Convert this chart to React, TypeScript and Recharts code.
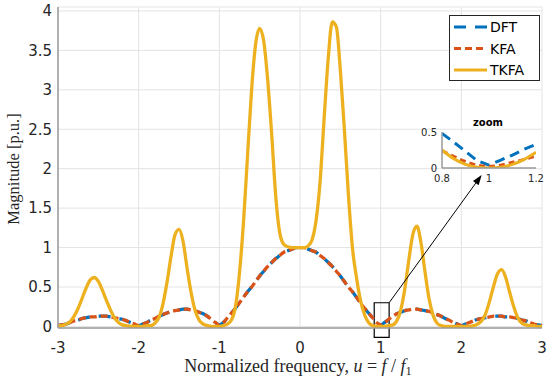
import React from "react";
import { LineChart, Line, XAxis, YAxis, CartesianGrid, ReferenceArea, ReferenceLine } from "recharts";

// normalized frequency grid, step 0.05
const freq = [
  -3, -2.95, -2.9, -2.85, -2.8, -2.75, -2.7, -2.65, -2.6, -2.55,
  -2.5, -2.45, -2.4, -2.35, -2.3, -2.25, -2.2, -2.15, -2.1, -2.05,
  -2, -1.95, -1.9, -1.85, -1.8, -1.75, -1.7, -1.65, -1.6, -1.55,
  -1.5, -1.45, -1.4, -1.35, -1.3, -1.25, -1.2, -1.15, -1.1, -1.05,
  -1, -0.95, -0.9, -0.85, -0.8, -0.75, -0.7, -0.65, -0.6, -0.55,
  -0.5, -0.45, -0.4, -0.35, -0.3, -0.25, -0.2, -0.15, -0.1, -0.05,
  0, 0.05, 0.1, 0.15, 0.2, 0.25, 0.3, 0.35, 0.4, 0.45,
  0.5, 0.55, 0.6, 0.65, 0.7, 0.75, 0.8, 0.85, 0.9, 0.95,
  1, 1.05, 1.1, 1.15, 1.2, 1.25, 1.3, 1.35, 1.4, 1.45,
  1.5, 1.55, 1.6, 1.65, 1.7, 1.75, 1.8, 1.85, 1.9, 1.95,
  2, 2.05, 2.1, 2.15, 2.2, 2.25, 2.3, 2.35, 2.4, 2.45,
  2.5, 2.55, 2.6, 2.65, 2.7, 2.75, 2.8, 2.85, 2.9, 2.95,
  3,
];

const dft = [
  0.01, 0.02, 0.03, 0.05, 0.07, 0.08, 0.1, 0.11, 0.12, 0.12,
  0.13, 0.13, 0.13, 0.12, 0.11, 0.1, 0.09, 0.07, 0.05, 0.03,
  0.01, 0.03, 0.05, 0.08, 0.1, 0.13, 0.15, 0.17, 0.19, 0.2,
  0.21, 0.22, 0.22, 0.21, 0.2, 0.18, 0.16, 0.13, 0.09, 0.05,
  0.02, 0.05, 0.11, 0.17, 0.23, 0.3, 0.37, 0.44, 0.5, 0.57,
  0.64, 0.7, 0.76, 0.81, 0.86, 0.9, 0.94, 0.96, 0.98, 1.0,
  1.0, 1.0, 0.98, 0.96, 0.94, 0.9, 0.86, 0.81, 0.76, 0.7,
  0.64, 0.57, 0.5, 0.44, 0.37, 0.3, 0.23, 0.17, 0.11, 0.05,
  0.02, 0.05, 0.09, 0.13, 0.16, 0.18, 0.2, 0.21, 0.22, 0.22,
  0.21, 0.2, 0.19, 0.17, 0.15, 0.13, 0.1, 0.08, 0.05, 0.03,
  0.01, 0.03, 0.05, 0.07, 0.09, 0.1, 0.11, 0.12, 0.13, 0.13,
  0.13, 0.12, 0.12, 0.11, 0.1, 0.08, 0.07, 0.05, 0.03, 0.02,
  0.01,
];

const kfa = [
  0.01, 0.02, 0.03, 0.05, 0.07, 0.08, 0.1, 0.11, 0.12, 0.12,
  0.13, 0.13, 0.13, 0.12, 0.11, 0.1, 0.09, 0.07, 0.05, 0.03,
  0.01, 0.03, 0.05, 0.08, 0.1, 0.13, 0.15, 0.17, 0.19, 0.2,
  0.21, 0.22, 0.22, 0.21, 0.2, 0.18, 0.16, 0.13, 0.09, 0.05,
  0.02, 0.05, 0.11, 0.17, 0.23, 0.3, 0.37, 0.44, 0.5, 0.57,
  0.64, 0.7, 0.76, 0.81, 0.86, 0.9, 0.94, 0.96, 0.98, 1.0,
  1.0, 1.0, 0.98, 0.96, 0.94, 0.9, 0.86, 0.81, 0.76, 0.7,
  0.64, 0.57, 0.5, 0.44, 0.37, 0.3, 0.23, 0.17, 0.11, 0.05,
  0.02, 0.05, 0.09, 0.13, 0.16, 0.18, 0.2, 0.21, 0.22, 0.22,
  0.21, 0.2, 0.19, 0.17, 0.15, 0.13, 0.1, 0.08, 0.05, 0.03,
  0.01, 0.03, 0.05, 0.07, 0.09, 0.1, 0.11, 0.12, 0.13, 0.13,
  0.13, 0.12, 0.12, 0.11, 0.1, 0.08, 0.07, 0.05, 0.03, 0.02,
  0.01,
];

const tkfa = [
  0.01, 0.01, 0.03, 0.06, 0.13, 0.23, 0.36, 0.49, 0.59, 0.62,
  0.57, 0.46, 0.33, 0.21, 0.11, 0.05, 0.02, 0.01, 0.0, 0.0,
  0.0, 0.0, 0.01, 0.01, 0.04, 0.11, 0.28, 0.55, 0.88, 1.16,
  1.23, 1.08, 0.74, 0.43, 0.2, 0.08, 0.03, 0.01, 0.0, 0.0,
  0.0, 0.01, 0.03, 0.08, 0.25, 0.68, 1.33, 2.17, 3.0, 3.58,
  3.78, 3.62, 3.12, 2.42, 1.64, 1.18, 1.04, 1.01, 1.0, 1.0,
  1.0, 1.0, 1.02, 1.1, 1.35, 1.85, 2.65, 3.4, 3.86, 3.8,
  3.25, 2.5, 1.67, 1.0, 0.62, 0.33, 0.15, 0.05, 0.01, 0.0,
  0.0, 0.0, 0.01, 0.02, 0.07, 0.21, 0.48, 0.85, 1.17, 1.27,
  1.06, 0.69, 0.35, 0.14, 0.04, 0.01, 0.0, 0.0, 0.0, 0.0,
  0.0, 0.0, 0.0, 0.01, 0.03, 0.07, 0.16, 0.32, 0.51, 0.67,
  0.72, 0.62, 0.43, 0.25, 0.11, 0.04, 0.02, 0.01, 0.01, 0.0,
  0.0,
];

const xTicks = [-3, -2, -1, 0, 1, 2, 3];
const yTicks = [0, 0.5, 1, 1.5, 2, 2.5, 3, 3.5, 4];

// inset (zoom around u = 1)
const zoomFreq = [0.8, 0.85, 0.9, 0.95, 1, 1.05, 1.1, 1.15, 1.2];
const zoomDft = [0.48, 0.36, 0.23, 0.1, 0.04, 0.11, 0.18, 0.26, 0.33];
const zoomKfa = [0.24, 0.16, 0.09, 0.04, 0.02, 0.04, 0.08, 0.12, 0.17];
const zoomTkfa = [0.25, 0.13, 0.05, 0.01, 0.0, 0.01, 0.05, 0.12, 0.22];
const zoomXTicks = [0.8, 1, 1.2];
const zoomYTicks = [0, 0.5];

const series = [
  { key: "dft", name: "DFT", color: "#0072BD", dash: "12 9", zoomDash: "10 6" },
  { key: "kfa", name: "KFA", color: "#D95319", dash: "7 4", zoomDash: "6 4" },
  { key: "tkfa", name: "TKFA", color: "#EDB120", dash: undefined, zoomDash: undefined },
];

const mainData = freq.map((u, i) => ({ u, dft: dft[i], kfa: kfa[i], tkfa: tkfa[i] }));
const zoomData = zoomFreq.map((u, i) => ({ u, dft: zoomDft[i], kfa: zoomKfa[i], tkfa: zoomTkfa[i] }));

const boxLine = { stroke: "#9a9a9a", strokeWidth: 1.5 };
const tickFont = { fontSize: 15, fontFamily: "DejaVu Sans", fill: "#262626" };
const smallFont = { fontSize: 10, fontFamily: "DejaVu Sans", fill: "#262626" };

const Arrow = (props: any) => {
  const { x1, y1, x2, y2 } = props;
  const a = Math.atan2(y2 - y1, x2 - x1);
  const len = 10;
  const w = 3.5;
  const bx = x2 - len * Math.cos(a);
  const by = y2 - len * Math.sin(a);
  const pts = `${x2},${y2} ${bx + w * Math.sin(a)},${by - w * Math.cos(a)} ${bx - w * Math.sin(a)},${by + w * Math.cos(a)}`;
  return (
    <g>
      <line x1={x1} y1={y1} x2={bx} y2={by} stroke="#000" strokeWidth={1} />
      <polygon points={pts} fill="#000" />
    </g>
  );
};

export default function App() {
  return (
    <div style={{ position: "absolute", left: 0, top: 0, width: 550, height: 381, background: "#fff" }}>
      <div style={{ position: "absolute", left: 0, top: 0 }}>
        <LineChart width={550} height={381} data={mainData} margin={{ top: 7, right: 8, bottom: 0, left: 8 }}>
          <CartesianGrid stroke="#e3e3e3" strokeWidth={1} />
          <XAxis dataKey="u" type="number" domain={[-3, 3]} ticks={xTicks} height={53}
            tickSize={0} tickMargin={14} tick={tickFont} axisLine={boxLine} />
          <XAxis xAxisId="top" orientation="top" dataKey="u" type="number" domain={[-3, 3]} ticks={xTicks}
            height={0} tick={false} tickLine={false} axisLine={boxLine} />
          <YAxis type="number" domain={[-0.02, 4.05]} ticks={yTicks} width={50}
            tickSize={0} tickMargin={6} tick={tickFont} axisLine={boxLine} />
          <YAxis yAxisId="right" orientation="right" type="number" domain={[-0.02, 4.05]} ticks={yTicks}
            width={0} tick={false} tickLine={false} axisLine={boxLine} />
          {series.map((s) => (
            <Line key={s.key} dataKey={s.key} type="monotone" stroke={s.color} strokeWidth={3.3}
              strokeDasharray={s.dash} dot={false} activeDot={false} isAnimationActive={false} />
          ))}
          <ReferenceArea x1={0.92} x2={1.105} y1={-0.14} y2={0.3} ifOverflow="visible"
            fill="none" stroke="#000" strokeWidth={1.2} fillOpacity={0} />
          <ReferenceLine segment={[{ x: 1.105, y: 0.3 }, { x: 2.252, y: 1.92 }]} ifOverflow="visible" shape={Arrow} />
        </LineChart>
      </div>

      <div style={{ position: "absolute", left: 400, top: 112 }}>
        <LineChart width={145} height={80} data={zoomData} margin={{ top: 20, right: 9, bottom: 0, left: 0 }}>
          <CartesianGrid fill="#fff" horizontal={false} vertical={false} />
          <XAxis dataKey="u" type="number" domain={[0.8, 1.2]} ticks={zoomXTicks} height={24}
            tickSize={0} tickMargin={7} tick={smallFont} axisLine={boxLine} allowDataOverflow />
          <XAxis xAxisId="top" orientation="top" dataKey="u" type="number" domain={[0.8, 1.2]} ticks={zoomXTicks}
            height={0} tick={false} tickLine={false} axisLine={boxLine} />
          <YAxis type="number" domain={[0, 0.5]} ticks={zoomYTicks} width={42}
            tickSize={0} tickMargin={5} tick={smallFont} axisLine={boxLine} allowDataOverflow />
          <YAxis yAxisId="right" orientation="right" type="number" domain={[0, 0.5]}
            width={0} tick={false} tickLine={false} axisLine={boxLine} />
          {series.map((s) => (
            <Line key={s.key} dataKey={s.key} type={s.key === "dft" ? "linear" : "monotone"} stroke={s.color}
              strokeWidth={3} strokeDasharray={s.zoomDash} dot={false} activeDot={false} isAnimationActive={false} />
          ))}
        </LineChart>
      </div>

      <svg width={550} height={381} style={{ position: "absolute", left: 0, top: 0, pointerEvents: "none" }}>
        <text x={13} y={169} transform="rotate(-90 13 169)" textAnchor="middle" dominantBaseline="central"
          fontFamily="Liberation Serif" fontSize={16.5} fill="#262626">
          Magnitude [p.u.]
        </text>
        <text x={298} y={372} textAnchor="middle" fontFamily="Liberation Serif" fontSize={18} fill="#262626">
          Normalized frequency, <tspan fontStyle="italic">u</tspan> = <tspan fontStyle="italic">f</tspan> / <tspan fontStyle="italic">f</tspan>
          <tspan fontSize={12.5} dy={3}>1</tspan>
        </text>
        <text x={488} y={126} textAnchor="middle" fontFamily="DejaVu Sans" fontWeight="bold" fontSize={10} fill="#000">
          zoom
        </text>
        <rect x={449.5} y={15.5} width={90} height={65} fill="#fff" stroke="#262626" strokeWidth={1} />
        {series.map((s, i) => {
          const y = 27 + i * 21.5;
          return (
            <g key={s.key}>
              <line x1={454} x2={487} y1={y} y2={y} stroke={s.color} strokeWidth={3.2} strokeDasharray={s.dash} />
              <text x={490} y={y + 5} fontFamily="DejaVu Sans" fontSize={14} fill="#000">{s.name}</text>
            </g>
          );
        })}
      </svg>
    </div>
  );
}
